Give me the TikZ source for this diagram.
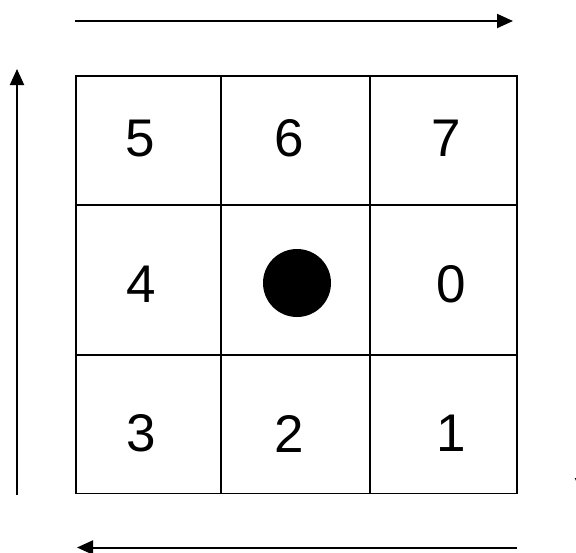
\documentclass[tikz,border=0pt]{standalone}
\usepackage{fontspec}
\setmainfont{Liberation Sans}
\usetikzlibrary{arrows.meta}
\begin{document}
\begin{tikzpicture}[x=1pt,y=-1pt,
  gridline/.style={line width=1.7pt,black},
  dirarrow/.style={line width=2pt,-{Triangle[length=16pt,width=14pt]}},
  digit/.style={font=\fontsize{53}{53}\selectfont,inner sep=0pt,anchor=center}]
\useasboundingbox[fill=white] (0,0) rectangle (576,552);
% grid
\draw[gridline] (75.7,75.7) rectangle (517,493.5);
\draw[gridline] (221,75.7) -- (221,493.5);
\draw[gridline] (370,75.7) -- (370,493.5);
\draw[gridline] (75.7,205) -- (517,205);
\draw[gridline] (75.7,355) -- (517,355);
% digits
\node[digit] (n5) at (140.5,138.5) {5};
\node[digit] (n6) at (289,138.5) {6};
\node[digit] (n7) at (446,138.5) {7};
\node[digit] (n4) at (141,284.5) {4};
\node[digit] (n0) at (451,284.5) {0};
\node[digit] (n3) at (141,433.5) {3};
\node[digit] (n2) at (289,433.5) {2};
\node[digit] (n1) at (451,433.5) {1};
% centre dot
\fill (297,283) circle (34);
% arrows
\coordinate (ta) at (75,21);
\coordinate (tb) at (513,21);
\draw[dirarrow] (ta) -- (tb);
\coordinate (la) at (17,495);
\coordinate (lb) at (17,69);
\draw[dirarrow] (la) -- (lb);
\coordinate (ba) at (517,547.5);
\coordinate (bb) at (77,547.5);
\draw[dirarrow] (ba) -- (bb);
\coordinate (ra) at (582,70);
\coordinate (rb) at (582,494);
\draw[dirarrow] (ra) -- (rb);
\end{tikzpicture}
\end{document}
